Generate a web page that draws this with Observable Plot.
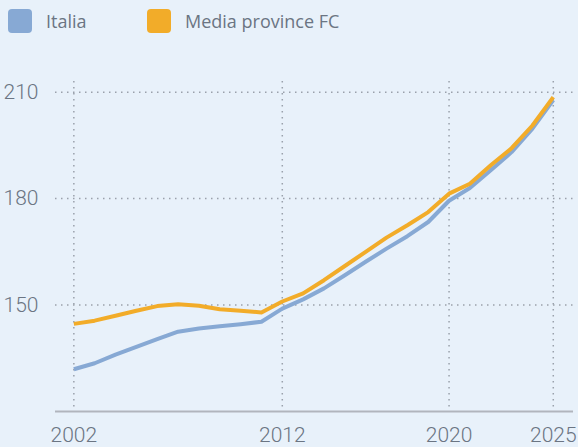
<!DOCTYPE html>
<html>
<head>
<meta charset="utf-8">
<script src="https://cdn.jsdelivr.net/npm/d3@7"></script>
<script src="https://cdn.jsdelivr.net/npm/@observablehq/plot@0.6"></script>
<style>
  html, body { margin: 0; padding: 0; background: #e8f1fa; }
  body { width: 578px; height: 447px; overflow: hidden; }
  #legend { height: 42px; display: flex; align-items: flex-start; font-family: "Open Sans", sans-serif; font-size: 18px; color: #6b7583; }
  .item { display: flex; align-items: center; position: absolute; top: 9px; }
  .sw { width: 24px; height: 24px; border-radius: 4px; margin-right: 14px; }
  svg { display: block; }
</style>
</head>
<body>
<div id="legend"></div>
<div id="chart"></div>
<script>
const years = [2002, 2003, 2004, 2005, 2006, 2007, 2008, 2009, 2010, 2011, 2012, 2013,
               2014, 2015, 2016, 2017, 2018, 2019, 2020, 2021, 2022, 2023, 2024, 2025];
const italia = [131.9, 133.6, 136.0, 138.2, 140.4, 142.5, 143.4, 144.0, 144.6, 145.3, 149.0, 151.6,
                154.7, 158.4, 162.2, 165.9, 169.4, 173.4, 179.4, 183.0, 188.0, 193.1, 199.7, 207.8];
const mediaFC = [144.7, 145.6, 147.0, 148.4, 149.7, 150.2, 149.8, 148.8, 148.4, 147.9, 151.0, 153.3,
                 157.0, 161.0, 165.0, 169.0, 172.5, 176.2, 181.4, 184.2, 189.4, 194.2, 200.6, 208.6];
const seriesNames = ["Italia", "Media province FC"];
const seriesColors = ["#87a9d4", "#f2ac29"];
const xTicks = [2002, 2012, 2020, 2025];
const yTicks = [150, 180, 210];
const yBase = [120];

const data = [];
years.forEach((y, i) => {
  data.push({year: y, value: italia[i], serie: seriesNames[0]});
});
years.forEach((y, i) => {
  data.push({year: y, value: mediaFC[i], serie: seriesNames[1]});
});

// legend
const legend = document.getElementById("legend");
const lefts = [8, 147];
seriesNames.forEach((n, i) => {
  const it = document.createElement("div");
  it.className = "item";
  it.style.left = lefts[i] + "px";
  it.innerHTML = `<span class="sw" style="background:${seriesColors[i]}"></span><span>${n}</span>`;
  legend.appendChild(it);
});

const textColor = "#6b7583";
const grid = "#9aa1ab";

const chart = Plot.plot({
  width: 578,
  height: 405,
  marginLeft: 55,
  marginRight: 5,
  marginTop: 39,
  marginBottom: 36,
  style: {background: "transparent", fontFamily: "Roboto, sans-serif", fontSize: "21px", color: textColor},
  x: {domain: [2001.12, 2025.97], ticks: xTicks},
  y: {domain: [120, 213]},
  color: {domain: seriesNames, range: seriesColors},
  marks: [
    Plot.gridX(xTicks, {stroke: grid, strokeOpacity: 1, strokeWidth: 1.5, strokeDasharray: "1.5,4.5"}),
    Plot.gridY(yTicks, {stroke: grid, strokeOpacity: 1, strokeWidth: 1.5, strokeDasharray: "1.5,4.5"}),
    Plot.ruleY(yBase, {stroke: "#b1b5bd", strokeWidth: 2}),
    Plot.axisX(xTicks, {tickSize: 0, tickPadding: 16, tickFormat: d => String(d), fill: textColor, fontWeight: 300, label: null}),
    Plot.axisY(yTicks, {tickSize: 0, tickPadding: 52, textAnchor: "start", fill: textColor, fontWeight: 300, label: null}),
    Plot.line(data, {x: "year", y: "value", z: "serie", stroke: "serie", strokeWidth: 4, strokeLinejoin: "round", strokeLinecap: "butt"})
  ]
});
document.getElementById("chart").appendChild(chart);
</script>
</body>
</html>
